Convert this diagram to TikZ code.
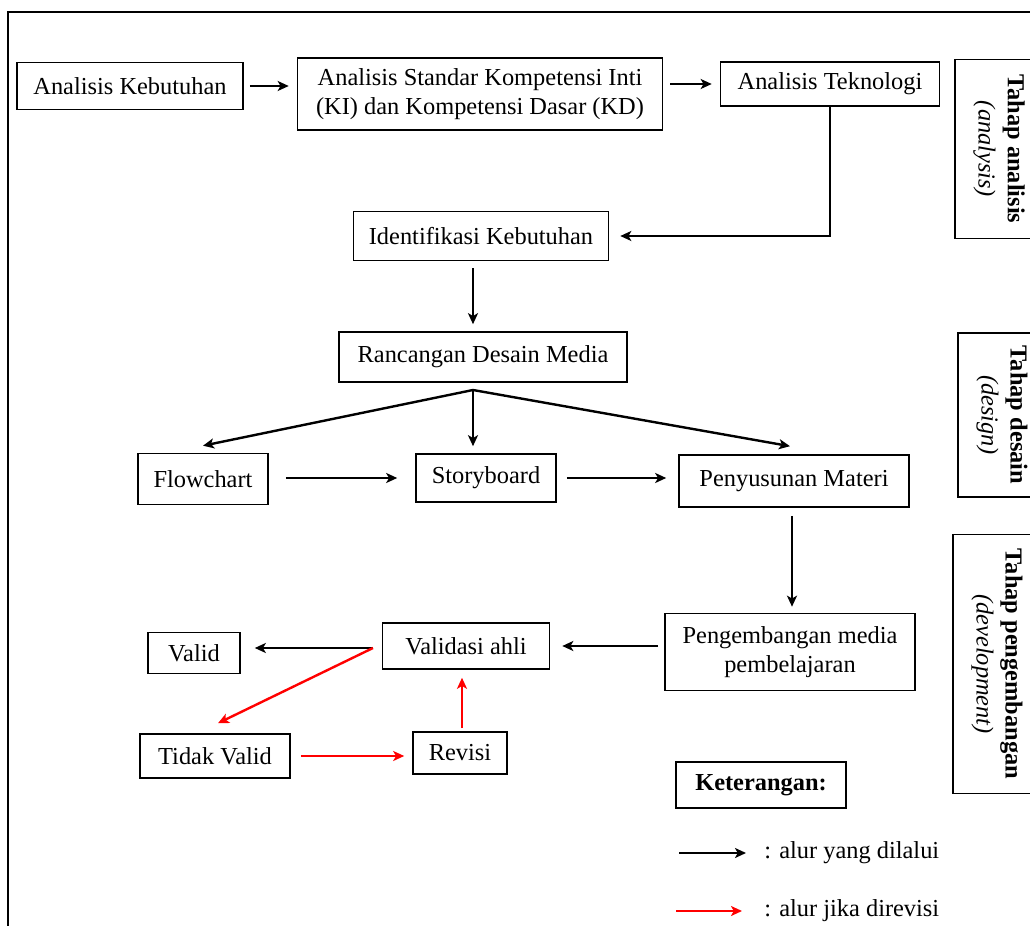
\documentclass[tikz,border=0pt]{standalone}
\usepackage{fontspec}
\setmainfont{Liberation Serif}
\usetikzlibrary{arrows.meta}

\tikzset{
  box/.style={draw, line width=0.8pt, align=center, inner sep=1pt, font=\fontsize{12.2}{14.6}\selectfont},
  phase/.style={box, rotate=-90, minimum height=44pt},
  flow/.style={-{Stealth[length=5.5pt,width=5pt,inset=1.4pt]}, line width=1.2pt},
  revflow/.style={flow, red}
}

\begin{document}
\begin{tikzpicture}[x=0.5pt,y=-0.5pt]

  \useasboundingbox (0,0) rectangle (1030,926);
  \clip (0,0) rectangle (1030,926);
  \draw[line width=0.8pt] (8,926) -- (8,12) -- (1030,12);

  % tahap analisis
  \node[box, minimum width=113pt, minimum height=23.5pt] (ak) at (130,86) {Analisis Kebutuhan};
  \node[box, minimum width=182.5pt, minimum height=36pt] (ask) at (480,94) {Analisis Standar Kompetensi Inti\\(KI) dan Kompetensi Dasar (KD)};
  \node[box, minimum width=109.5pt, minimum height=22pt] (at) at (830,84) {Analisis Teknologi};
  \node[box, minimum width=127.5pt, minimum height=24.5pt] (ik) at (481,236) {Identifikasi Kebutuhan};

  % tahap desain
  \node[box, minimum width=144pt, minimum height=25pt] (rdm) at (483,357) {Rancangan Desain Media};
  \coordinate (rb) at (473,390);
  \node[box, minimum width=65pt, minimum height=25.5pt] (fc) at (203,479) {Flowchart};
  \node[box, minimum width=70pt, minimum height=24pt] (sb) at (486,478) {Storyboard};
  \node[box, minimum width=115pt, minimum height=26pt] (pm) at (794,481) {Penyusunan Materi};

  % tahap pengembangan
  \node[box, minimum width=125pt, minimum height=38.5pt] (pmp) at (790,652) {Pengembangan media\\pembelajaran};
  \node[box, minimum width=83.5pt, minimum height=23pt] (va) at (466,646) {Validasi ahli};
  \coordinate (vs) at (373,648);
  \node[box, minimum width=46pt, minimum height=20.5pt] (v) at (194,653) {Valid};
  \node[box, minimum width=75pt, minimum height=22pt] (tv) at (215,756) {Tidak Valid};
  \node[box, minimum width=47pt, minimum height=21pt] (r) at (460,753) {Revisi};

  % label tahap
  \node[phase, minimum width=89.5pt] (tahap-a) at (999,149) {\textbf{Tahap analisis}\\\textit{(analysis)}};
  \node[phase, minimum width=82pt] (tahap-d) at (1002,415) {\textbf{Tahap desain}\\\textit{(design)}};
  \node[phase, minimum width=129.5pt] (tahap-p) at (997,664) {\textbf{Tahap pengembangan}\\\textit{(development)}};

  % keterangan
  \node[box, minimum width=85pt, minimum height=23pt] (ket) at (761,785) {\textbf{Keterangan:}};
  \coordinate (l1) at (679,853);
  \node[font=\fontsize{12.2}{14.6}\selectfont, anchor=west, inner sep=0pt] (l1t) at (764,853) {: alur yang dilalui};
  \coordinate (l2) at (676,911);
  \node[font=\fontsize{12.2}{14.6}\selectfont, anchor=west, inner sep=0pt] (l2t) at (764,911) {: alur jika direvisi};

  \draw[flow, shorten <=3pt, shorten >=4pt] (ak.east) -- (ak.east -| ask.west);
  \draw[flow, shorten <=3.5pt, shorten >=4pt] (ask.east |- at.west) -- (at.west);
  \draw[flow, shorten >=5.5pt] (at.south) |- (ik.east);
  \draw[flow, shorten <=3.5pt, shorten >=3.5pt] ([xshift=-4pt]ik.south) -- ([xshift=-4pt]ik.south |- rdm.north);

  \draw[flow] (rb) -- ([yshift=3.5pt]fc.north);
  \draw[flow, shorten >=3.5pt] (rb) -- (rb |- sb.north);
  \draw[flow] (rb) -- ([xshift=-2pt,yshift=4pt]pm.north);
  \draw[flow, shorten <=8.5pt, shorten >=9pt] (fc.east |- sb.west) -- (sb.west);
  \draw[flow, shorten <=5pt, shorten >=6pt] (sb.east) -- (sb.east -| pm.west);
  \draw[flow, shorten <=4pt, shorten >=3pt] ([xshift=-1pt]pm.south) -- ([xshift=-1pt]pm.south |- pmp.north);

  \draw[flow, shorten <=3pt, shorten >=6pt] (pmp.west |- va.east) -- (va.east);
  \draw[flow, shorten >=7pt] (vs) -- (vs -| v.east);
  \draw[revflow] (vs) -- ([xshift=1.5pt,yshift=5pt]tv.north);
  \draw[revflow, shorten <=5pt, shorten >=4pt] (tv.east) -- (tv.east -| r.west);
  \draw[revflow, shorten <=1.5pt, shorten >=4pt] ([xshift=1pt]r.north) -- ([xshift=1pt]r.north |- va.south);

  \draw[flow, shorten >=9pt] (l1) -- (l1 -| l1t.west);
  \draw[revflow, shorten >=11pt] (l2) -- (l2 -| l2t.west);

\end{tikzpicture}
\end{document}
